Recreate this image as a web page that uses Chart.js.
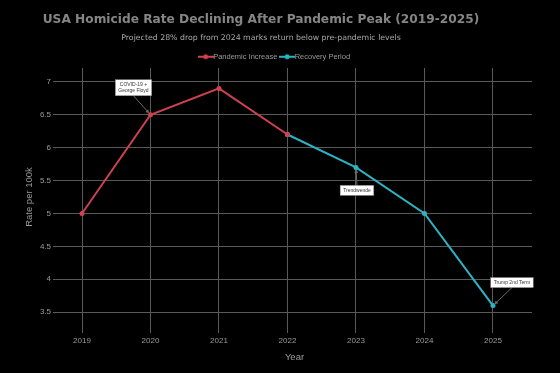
<!DOCTYPE html>
<html lang="en">
<head>
    <meta charset="UTF-8">
    <title>USA Homicide Rate</title>
    <script src="https://cdn.jsdelivr.net/npm/chart.js"></script>
    <style>
        html, body { margin: 0; padding: 0; background: #000; }
        #wrap { width: 560px; height: 373px; }
    </style>
</head>
<body>
<div id="wrap">
    <canvas id="myChart" width="560" height="373"></canvas>
</div>
<script>
    const years = [2019, 2020, 2021, 2022, 2023, 2024, 2025];
    const pandemicRates = [5.0, 6.5, 6.9, 6.2, null, null, null];
    const recoveryRates = [null, null, null, 6.2, 5.7, 5.0, 3.6];
    const yTicks = [3.5, 4, 4.5, 5, 5.5, 6, 6.5, 7];

    const titleText = 'USA Homicide Rate Declining After Pandemic Peak (2019-2025)';
    const subtitleText = 'Projected 28% drop from 2024 marks return below pre-pandemic levels';

    const noteYears = [2020, 2023, 2025];
    const noteValues = [6.5, 5.7, 3.6];
    const noteTexts = [['COVID-19 +', 'George Floyd'], ['Trendwende'], ['Trump 2nd Term']];
    // box offset from the point, in pixels
    const noteOffsets = [[-17, -27], [1, 23], [19, -23]];

    const red = '#cf4250';
    const teal = '#2cb4c5';

    function toPoints(vals) {
        const out = [];
        for (let i = 0; i < years.length; i++) {
            if (vals[i] !== null) out.push({ x: years[i], y: vals[i] });
        }
        return out;
    }

    function legendIcon(color) {
        const c = document.createElement('canvas');
        c.width = 16;
        c.height = 8;
        const g = c.getContext('2d');
        g.strokeStyle = color;
        g.lineWidth = 2;
        g.beginPath();
        g.moveTo(0, 4);
        g.lineTo(16, 4);
        g.stroke();
        g.fillStyle = color;
        g.beginPath();
        g.arc(8, 4, 2.5, 0, Math.PI * 2);
        g.fill();
        return c;
    }

    const bgPlugin = {
        id: 'bg',
        beforeDraw(chart) {
            const g = chart.ctx;
            g.save();
            g.fillStyle = '#000';
            g.fillRect(0, 0, chart.width, chart.height);
            g.restore();
        }
    };

    // title and subtitle sit a bit left of the plot centre, as in the original
    const headPlugin = {
        id: 'head',
        afterDraw(chart) {
            const g = chart.ctx;
            g.save();
            g.textAlign = 'center';
            g.textBaseline = 'middle';
            g.fillStyle = '#858585';
            g.font = 'bold 12.2px "DejaVu Sans", sans-serif';
            g.fillText(titleText, 261, 20);
            g.fillStyle = '#a8a8a8';
            g.font = '7.8px "DejaVu Sans", sans-serif';
            g.fillText(subtitleText, 261, 38);
            g.restore();
        }
    };

    const notePlugin = {
        id: 'notes',
        afterDatasetsDraw(chart) {
            const g = chart.ctx;
            const xs = chart.scales.x;
            const ys = chart.scales.y;
            g.save();
            g.font = '5px "Liberation Sans", Arial, sans-serif';
            for (let i = 0; i < noteYears.length; i++) {
                const px = xs.getPixelForValue(noteYears[i]);
                const py = ys.getPixelForValue(noteValues[i]);
                const bx = px + noteOffsets[i][0];
                const by = py + noteOffsets[i][1];
                const lines = noteTexts[i];
                let w = 0;
                lines.forEach(t => { w = Math.max(w, g.measureText(t).width); });
                w += 6;
                const h = lines.length * 6 + 4;

                // arrow from box edge to point
                const sx = bx;
                const sy = by + (noteOffsets[i][1] < 0 ? h / 2 : -h / 2);
                const ang = Math.atan2(py - sy, px - sx);
                const tx = px - Math.cos(ang) * 2, ty = py - Math.sin(ang) * 2;
                g.strokeStyle = '#6b6b6b';
                g.fillStyle = '#6b6b6b';
                g.lineWidth = 1;
                g.beginPath();
                g.moveTo(sx, sy);
                g.lineTo(tx, ty);
                g.stroke();
                g.beginPath();
                g.moveTo(tx, ty);
                g.lineTo(tx - Math.cos(ang - 0.5) * 4, ty - Math.sin(ang - 0.5) * 4);
                g.lineTo(tx - Math.cos(ang + 0.5) * 4, ty - Math.sin(ang + 0.5) * 4);
                g.closePath();
                g.fill();

                g.fillStyle = '#ffffff';
                g.fillRect(bx - w / 2, by - h / 2, w, h);
                g.strokeStyle = '#888';
                g.lineWidth = 0.5;
                g.strokeRect(bx - w / 2, by - h / 2, w, h);
                g.fillStyle = '#333';
                g.textAlign = 'center';
                g.textBaseline = 'middle';
                lines.forEach((t, k) => {
                    g.fillText(t, bx, by - (lines.length - 1) * 3 + k * 6);
                });
            }
            g.restore();
        }
    };

    const ctx = document.getElementById('myChart');
    new Chart(ctx, {
        type: 'line',
        data: {
            datasets: [{
                label: 'Pandemic Increase',
                data: toPoints(pandemicRates),
                borderColor: red,
                backgroundColor: red,
                borderWidth: 2,
                pointRadius: 2.5,
                pointBorderWidth: 0,
                tension: 0
            }, {
                label: 'Recovery Period',
                data: toPoints(recoveryRates),
                borderColor: teal,
                backgroundColor: teal,
                borderWidth: 2,
                pointRadius: 2.5,
                pointBorderWidth: 0,
                tension: 0
            }]
        },
        options: {
            responsive: false,
            animation: false,
            layout: { padding: { left: 20, right: 28, top: 47, bottom: 6 } },
            plugins: {
                title: { display: false },
                legend: {
                    display: true,
                    maxHeight: 21,
                    labels: {
                        color: '#9a9a9a',
                        font: { family: '"Liberation Sans", Arial, sans-serif', size: 7.5 },
                        usePointStyle: true,
                        boxHeight: 8,
                        padding: 6,
                        generateLabels(chart) {
                            return chart.data.datasets.map((d, i) => ({
                                text: d.label,
                                fontColor: '#9a9a9a',
                                pointStyle: legendIcon(d.borderColor),
                                datasetIndex: i,
                                lineWidth: 0
                            }));
                        }
                    }
                },
                tooltip: { enabled: false }
            },
            scales: {
                x: {
                    type: 'linear',
                    min: 2018.635,
                    max: 2025.57,
                    afterBuildTicks(s) { s.ticks = years.map(v => ({ value: v })); },
                    afterFit(s) { s.height = 41; },
                    ticks: {
                        color: '#9a9a9a',
                        font: { family: '"Liberation Sans", Arial, sans-serif', size: 8 },
                        callback: v => String(v),
                        maxRotation: 0,
                        padding: 3
                    },
                    grid: { color: '#5a5a5a', lineWidth: 1, drawTicks: true, tickLength: 7 },
                    border: { display: false },
                    title: {
                        display: true,
                        text: 'Year',
                        color: '#9a9a9a',
                        font: { family: '"Liberation Sans", Arial, sans-serif', size: 9.5 },
                        padding: { top: 6 }
                    }
                },
                y: {
                    min: 3.29,
                    max: 7.21,
                    afterBuildTicks(s) { s.ticks = yTicks.map(v => ({ value: v })); },
                    afterFit(s) { s.width = 37; },
                    ticks: {
                        color: '#9a9a9a',
                        font: { family: '"Liberation Sans", Arial, sans-serif', size: 8 },
                        callback: v => String(v),
                        padding: 2
                    },
                    grid: { color: '#5a5a5a', lineWidth: 1, drawTicks: true, tickLength: 4 },
                    border: { display: false },
                    title: {
                        display: true,
                        text: 'Rate per 100k',
                        color: '#9a9a9a',
                        font: { family: '"Liberation Sans", Arial, sans-serif', size: 9.5 },
                        padding: { bottom: 6 }
                    }
                }
            }
        },
        plugins: [bgPlugin, headPlugin, notePlugin]
    });
</script>
</body>
</html>
